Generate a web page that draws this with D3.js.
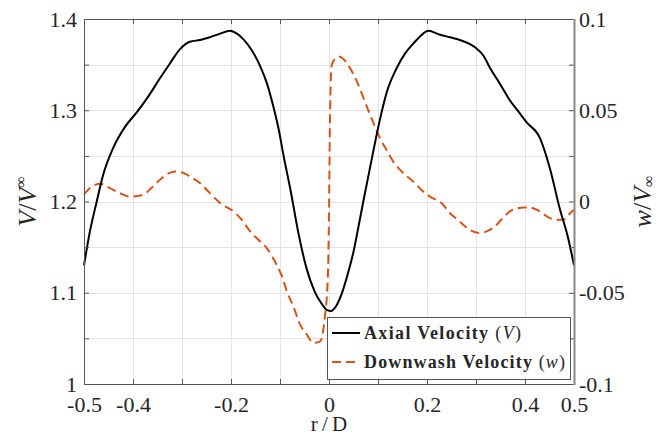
<!DOCTYPE html>
<html lang="en">
<head>
<meta charset="UTF-8">
<title>Axial and downwash velocity</title>
<style>
  body { margin: 0; background: #fff; }
  svg text { font-family: "Liberation Serif", "DejaVu Serif", serif; fill: #262626; }
</style>
</head>
<body>
<div id="chart"></div>
<script src="https://cdnjs.cloudflare.com/ajax/libs/d3/7.8.2/d3.min.js"></script>
<script>
// axial velocity V/Vinf (left axis)
var rAxial = [-0.5, -0.488, -0.474, -0.461, -0.441, -0.416, -0.392, -0.369, -0.345, -0.325, -0.304, -0.284, -0.263, -0.243, -0.222, -0.202, -0.188, -0.175, -0.158, -0.141, -0.127, -0.114, -0.103, -0.093, -0.078, -0.063, -0.046, -0.029, -0.015, -0.004, 0.004, 0.014, 0.026, 0.038, 0.050, 0.060, 0.070, 0.080, 0.090, 0.104, 0.118, 0.138, 0.155, 0.172, 0.188, 0.203, 0.225, 0.247, 0.267, 0.298, 0.315, 0.329, 0.350, 0.369, 0.386, 0.403, 0.431, 0.451, 0.471, 0.488, 0.5];
var vAxial = [1.130, 1.167, 1.200, 1.229, 1.258, 1.282, 1.298, 1.315, 1.335, 1.351, 1.367, 1.375, 1.377, 1.380, 1.384, 1.387, 1.384, 1.378, 1.366, 1.349, 1.330, 1.305, 1.280, 1.251, 1.211, 1.167, 1.127, 1.101, 1.088, 1.081, 1.080, 1.085, 1.099, 1.120, 1.145, 1.172, 1.200, 1.227, 1.254, 1.290, 1.320, 1.346, 1.362, 1.373, 1.382, 1.387, 1.383, 1.380, 1.377, 1.369, 1.360, 1.346, 1.328, 1.311, 1.299, 1.287, 1.269, 1.236, 1.192, 1.160, 1.130];

// downwash velocity w/Vinf (right axis)
var rDown = [-0.5, -0.485, -0.467, -0.447, -0.426, -0.406, -0.379, -0.362, -0.345, -0.330, -0.314, -0.298, -0.284, -0.263, -0.243, -0.222, -0.195, -0.178, -0.161, -0.144, -0.127, -0.107, -0.096, -0.086, -0.072, -0.059, -0.045, -0.032, -0.018, -0.008, -0.003, -0.001, 0.0007, 0.002, 0.0055, 0.012, 0.022, 0.030, 0.039, 0.057, 0.070, 0.084, 0.104, 0.118, 0.131, 0.150, 0.172, 0.190, 0.206, 0.230, 0.247, 0.267, 0.274, 0.290, 0.308, 0.325, 0.342, 0.355, 0.369, 0.383, 0.397, 0.410, 0.424, 0.438, 0.451, 0.465, 0.478, 0.490, 0.5];
var wDown = [0.004, 0.008, 0.0097, 0.0073, 0.0045, 0.0027, 0.0037, 0.0075, 0.0119, 0.0150, 0.0164, 0.0158, 0.0137, 0.010, 0.0046, -0.0009, -0.0055, -0.010, -0.0164, -0.021, -0.0255, -0.0346, -0.041, -0.0492, -0.058, -0.0675, -0.073, -0.0775, -0.0766, -0.062, -0.045, -0.0255, 0.011, 0.045, 0.0748, 0.078, 0.0793, 0.078, 0.0748, 0.0657, 0.057, 0.0474, 0.0347, 0.028, 0.0219, 0.016, 0.0109, 0.006, 0.0027, -0.001, -0.0064, -0.011, -0.0128, -0.016, -0.0173, -0.0160, -0.0128, -0.009, -0.0055, -0.0038, -0.0033, -0.0033, -0.0045, -0.007, -0.0091, -0.0100, -0.0100, -0.007, -0.0045];

var xTickLabels = ["-0.5", "-0.4", "-0.2", "0", "0.2", "0.4", "0.5"];
var leftTickLabels = ["1", "1.1", "1.2", "1.3", "1.4"];
var rightTickLabels = ["-0.1", "-0.05", "0", "0.05", "0.1"];

var width = 658, height = 435;
var margin = {top: 19, right: 84, bottom: 51, left: 84};

var svg = d3.select("#chart").append("svg")
  .attr("width", width)
  .attr("height", height);

var x = d3.scaleLinear().domain([-0.5, 0.5]).range([margin.left, width - margin.right]);
var yL = d3.scaleLinear().domain([1, 1.4]).range([height - margin.bottom, margin.top]);
var yR = d3.scaleLinear().domain([-0.1, 0.1]).range([height - margin.bottom, margin.top]);

var x0 = margin.left, x1 = width - margin.right;
var y0 = height - margin.bottom, y1 = margin.top;

// label lookup: show text only where the reference shows one
function pick(labels, digits) {
  return function(d) {
    var s = String(+d.toFixed(digits));
    return labels.indexOf(s) >= 0 ? s : "";
  };
}

// grid
var grid = svg.append("g").attr("stroke", "#e3e3e3").attr("stroke-width", 1);
grid.selectAll(".gx").data(d3.range(-4, 5).map(function(i) { return i / 10; }))
  .enter().append("line")
  .attr("x1", function(d) { return Math.round(x(d)) + 0.5; })
  .attr("x2", function(d) { return Math.round(x(d)) + 0.5; })
  .attr("y1", y1).attr("y2", y0);
grid.selectAll(".gy").data(d3.range(1, 8).map(function(i) { return 1 + i * 0.05; }))
  .enter().append("line")
  .attr("y1", function(d) { return Math.round(yL(d)) + 0.5; })
  .attr("y2", function(d) { return Math.round(yL(d)) + 0.5; })
  .attr("x1", x0).attr("x2", x1);

// lines
var axialLine = d3.line()
  .x(function(d, i) { return x(rAxial[i]); })
  .y(function(d) { return yL(d); })
  .curve(d3.curveMonotoneX);
var downLine = d3.line()
  .x(function(d, i) { return x(rDown[i]); })
  .y(function(d) { return yR(d); })
  .curve(d3.curveMonotoneX);

svg.append("path")
  .attr("d", downLine(wDown))
  .attr("fill", "none")
  .attr("stroke", "#D95319")
  .attr("stroke-width", 2)
  .attr("stroke-dasharray", "9,5");

svg.append("path")
  .attr("d", axialLine(vAxial))
  .attr("fill", "none")
  .attr("stroke", "#000")
  .attr("stroke-width", 2);

// axes (ticks pointing inward)
var tickLen = 5;
var xAxisB = d3.axisBottom(x).tickValues(d3.range(-5, 6).map(function(i) { return i / 10; }))
  .tickSizeInner(-tickLen).tickSizeOuter(0)
  .tickFormat(pick(xTickLabels, 1));
var gxb = svg.append("g").attr("transform", "translate(0," + y0 + ")").call(xAxisB);
gxb.selectAll("text").attr("dy", "0").attr("y", 28);

var xAxisT = d3.axisTop(x).tickValues(d3.range(-5, 6).map(function(i) { return i / 10; }))
  .tickSizeInner(-tickLen).tickSizeOuter(0).tickFormat("");
svg.append("g").attr("transform", "translate(0," + y1 + ")").call(xAxisT);

var yAxisL = d3.axisLeft(yL).tickValues(d3.range(0, 9).map(function(i) { return 1 + i * 0.05; }))
  .tickSizeInner(-tickLen).tickSizeOuter(0)
  .tickFormat(pick(leftTickLabels, 2));
var gyl = svg.append("g").attr("transform", "translate(" + x0 + ",0)").call(yAxisL);
gyl.selectAll("text").attr("x", -7);

var yAxisR = d3.axisRight(yR).tickValues(d3.range(-4, 5).map(function(i) { return i * 0.025; }))
  .tickSizeInner(-tickLen).tickSizeOuter(0)
  .tickFormat(pick(rightTickLabels, 3));
var gyr = svg.append("g").attr("transform", "translate(" + x1 + ",0)").call(yAxisR);
gyr.selectAll("text").attr("x", 5);

svg.selectAll(".tick text")
  .style("font-size", "22px")
  .attr("fill", "#262626");
svg.selectAll(".domain").remove();
svg.selectAll(".tick line").attr("stroke", "#555");

// box
svg.append("rect")
  .attr("x", x0 + 0.5).attr("y", y1 + 0.5)
  .attr("width", x1 - x0).attr("height", y0 - y1)
  .attr("fill", "none")
  .attr("stroke", "#555")
  .attr("stroke-width", 1);
svg.append("line").attr("x1", x1 + 0.5).attr("x2", x1 + 0.5).attr("y1", y1).attr("y2", y0 + 1)
  .attr("stroke", "#888").attr("stroke-width", 2);

// axis labels
svg.append("text")
  .attr("x", x(0)).attr("y", 431)
  .attr("text-anchor", "middle")
  .style("font-size", "21px")
  .text("r\u2009/\u2009D");

var ylab = svg.append("text")
  .attr("transform", "translate(36," + ((y0 + y1) / 2) + ") rotate(-90)")
  .attr("text-anchor", "middle")
  .style("font-size", "26px");
ylab.append("tspan").style("font-style", "italic").text("V");
ylab.append("tspan").text("/");
ylab.append("tspan").style("font-style", "italic").text("V");
ylab.append("tspan").attr("dy", -10).style("font-size", "16px").text("\u221E");

var yrlab = svg.append("text")
  .attr("transform", "translate(651," + ((y0 + y1) / 2) + ") rotate(-90)")
  .attr("text-anchor", "middle")
  .style("font-size", "26px");
yrlab.append("tspan").style("font-style", "italic").text("w");
yrlab.append("tspan").text("/");
yrlab.append("tspan").style("font-style", "italic").text("V");
yrlab.append("tspan").attr("dy", 3).style("font-size", "16px").text("\u221E");

// legend
var lg = svg.append("g").attr("transform", "translate(327,317)");
lg.append("rect")
  .attr("x", 0.5).attr("y", 0.5)
  .attr("width", 243).attr("height", 62)
  .attr("fill", "#fff")
  .attr("stroke", "#555")
  .attr("stroke-width", 1);

var entries = [
  {name: "Axial Velocity", sym: "V", color: "#000", dash: null, len: 157},
  {name: "Downwash Velocity", sym: "w", color: "#D95319", dash: "9,5", len: 201}
];
entries.forEach(function(e, i) {
  var yy = 16 + i * 29;
  lg.append("line")
    .attr("x1", 5).attr("x2", 33)
    .attr("y1", yy).attr("y2", yy)
    .attr("stroke", e.color)
    .attr("stroke-width", 2)
    .attr("stroke-dasharray", e.dash);
  var t = lg.append("text")
    .attr("x", 37).attr("y", yy + 6)
    .attr("textLength", e.len)
    .attr("lengthAdjust", "spacing")
    .style("font-size", "18px");
  t.append("tspan").style("font-weight", "bold").text(e.name + " ");
  t.append("tspan").text("(");
  t.append("tspan").style("font-style", "italic").text(e.sym);
  t.append("tspan").text(")");
});
</script>
</body>
</html>
